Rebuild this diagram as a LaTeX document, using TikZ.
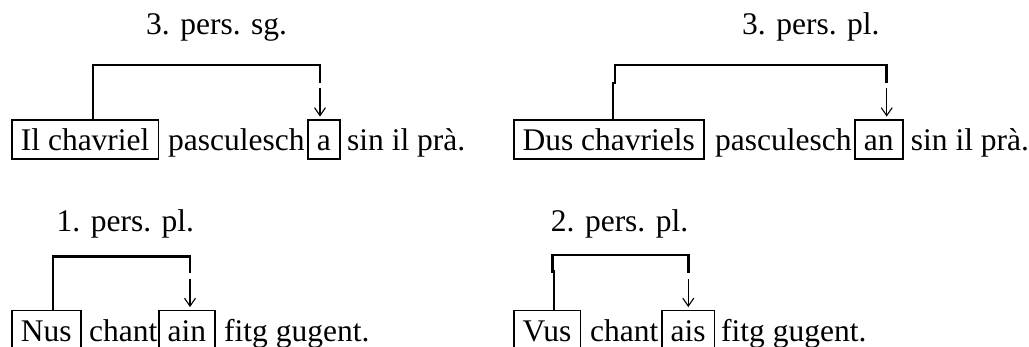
\documentclass[tikz,border=0pt]{standalone}
\usepackage{fontspec}
\setmainfont{Liberation Serif}
\usetikzlibrary{arrows.meta}
\newcommand{\wordfont}{\fontsize{31.5}{36}\selectfont}
\tikzset{
  word/.style={inner sep=0pt, anchor=base west, font=\wordfont},
  boxed/.style={draw, line width=1.8pt, inner xsep=9pt, inner ysep=0pt,
    text height=30.7pt, text depth=8.3pt, anchor=base west, font=\wordfont},
  bracket/.style={line width=2.5pt, line join=miter},
  arr/.style={line width=1.1pt, -{Straight Barb[length=8pt,width=11pt]}}
}
\begin{document}
\begin{tikzpicture}[x=1pt, y=-1pt]
\clip (0,0) rectangle (1029,347);
\fill[white] (0,0) rectangle (1029,347);
% labels
\node[word] (l1) at (146,35) {3. pers. sg.};
\node[word] (l2) at (742,35) {3. pers. pl.};
\node[word] (l3) at (56.5,232) {1. pers. pl.};
\node[word] (l4) at (550.7,232) {2. pers. pl.};
% row 1 left
\node[boxed] (b1) at (11,150.7) {Il chavriel};
\node[word] (t1) at (168,150.7) {pasculesch};
\node[boxed] (a1) at (307,150.7) {a};
\node[word] (s1) at (347,150.7) {sin il prà.};
% row 1 right
\node[boxed] (b2) at (512.7,150.7) {Dus chavriels};
\node[word] (t2) at (715,150.7) {pasculesch};
\node[boxed] (a2) at (854,150.7) {an};
\node[word] (s2) at (910.7,150.7) {sin il prà.};
% row 2 left
\node[boxed] (b3) at (11,341.2) {Nus};
\node[word] (t3) at (89,341.2) {chant};
\node[boxed] (a3) at (157.7,341.2) {ain};
\node[word] (s3) at (224,341.2) {fitg gugent.};
% row 2 right
\node[boxed] (b4) at (512.7,341.2) {Vus};
\node[word] (t4) at (590,341.2) {chant};
\node[boxed] (a4) at (660.7,341.2) {ais};
\node[word] (s4) at (721,341.2) {fitg gugent.};
% bracket corners
\coordinate (k1a) at (93,65);   \coordinate (k1b) at (320,65);
\coordinate (k2a) at (615,65);  \coordinate (k2b) at (886.7,65);
\coordinate (k3a) at (53,256.7); \coordinate (k3b) at (190,256.7);
\coordinate (k4a) at (552.7,255); \coordinate (k4b) at (688.3,255);
% brackets
\draw[bracket] (b1.north -| k1a) -- (k1a) -- (k1b) -- ++(0,18);
\draw[arr] ([shift={(0,23)}]k1b) -- ([shift={(0,-2.5)}]k1b |- a1.north);
\draw[bracket] (b2.north -| 613,0) -- (613,83) -- (615,83) -- (k2a) -- (k2b) -- ++(0,18);
\draw[arr] ([shift={(0,23)}]k2b) -- ([shift={(0,-2.5)}]k2b |- a2.north);
\draw[bracket] (b3.north -| k3a) -- (k3a) -- (k3b) -- ++(0,16.5);
\draw[arr] ([shift={(0,22)}]k3b) -- ([shift={(0,-2.5)}]k3b |- a3.north);
\draw[bracket] (b4.north -| 554,0) -- (554,271.7) -- (552.7,271.7) -- (k4a) -- (k4b) -- ++(0,18);
\draw[arr] ([shift={(0,24)}]k4b) -- ([shift={(0,-2.5)}]k4b |- a4.north);
\end{tikzpicture}
\end{document}
